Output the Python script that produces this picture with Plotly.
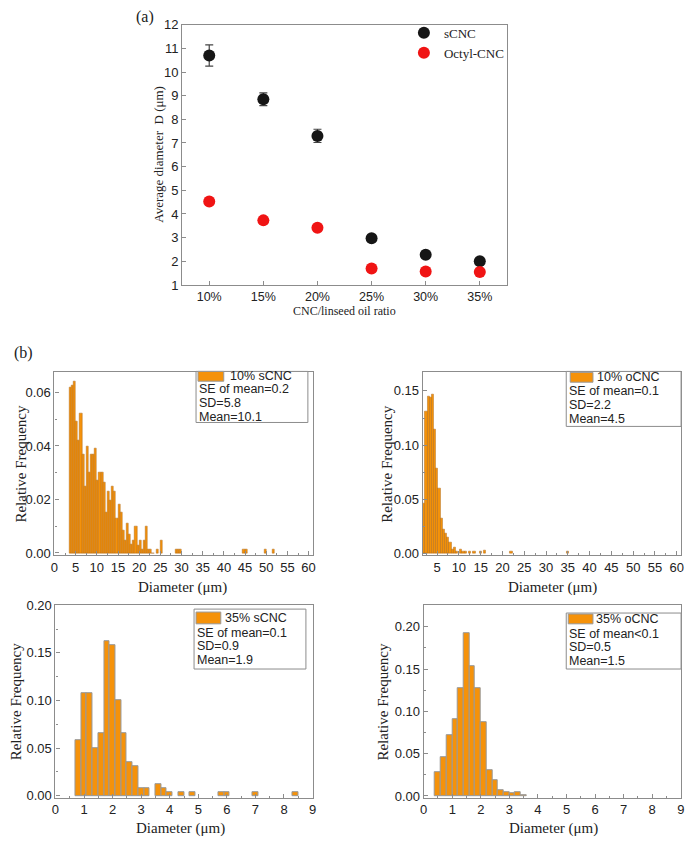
import plotly.graph_objects as go

W, H = 691, 844

# ---------------- data ----------------
ratio_labels = ["10%", "15%", "20%", "25%", "30%", "35%"]
scnc_mean = [10.7, 8.85, 7.3, 2.97, 2.28, 2.0]
scnc_err = [0.45, 0.27, 0.28, 0.1, 0.08, 0.06]
octyl_mean = [4.53, 3.73, 3.42, 1.7, 1.57, 1.55]
octyl_err = [0.05, 0.05, 0.05, 0.05, 0.05, 0.05]

# 10% sCNC histogram (0.5 um bins)
s10_centers = [3.75, 4.25, 4.75, 5.25, 5.75, 6.25, 6.75, 7.25, 7.75, 8.25,
               8.75, 9.25, 9.75, 10.25, 10.75, 11.25, 11.75, 12.25, 12.75, 13.25,
               13.75, 14.25, 14.75, 15.25, 15.75, 16.25, 16.75, 17.25, 17.75, 18.25,
               18.75, 19.25, 19.75, 20.25, 20.75, 21.25, 21.75, 22.25, 22.75, 23.25,
               24.25, 25.25, 28.75, 29.25, 29.75, 44.75, 45.25, 49.75, 51.75]
s10_freq = [0.062, 0.0625, 0.064, 0.049, 0.042, 0.052, 0.037, 0.025, 0.040, 0.030,
            0.037, 0.037, 0.039, 0.027, 0.030, 0.030, 0.0265, 0.015, 0.023, 0.0195,
            0.025, 0.023, 0.013, 0.018, 0.015, 0.0084, 0.0047, 0.011, 0.007, 0.0033,
            0.0047, 0.0098, 0.003, 0.0047, 0.0015, 0.0047, 0.0098, 0.0015, 0.0015, 0.0,
            0.0015, 0.0047, 0.0015, 0.0015, 0.0015, 0.0015, 0.0015, 0.0015, 0.0015]

# 10% oCNC histogram (0.5 um bins)
o10_centers = [2.0, 2.5, 3.0, 3.5, 4.0, 4.5, 5.0, 5.5, 6.0, 6.5,
               7.0, 7.5, 8.0, 8.5, 9.0, 9.5, 10.5, 11.0, 11.5, 12.5,
               13.5, 15.0, 16.0, 22.0, 35.0]
o10_freq = [0.046, 0.131, 0.145, 0.144, 0.147, 0.1145, 0.079, 0.060, 0.033, 0.0227,
            0.019, 0.015, 0.0106, 0.0045, 0.006, 0.002, 0.0036, 0.0018, 0.0018, 0.0018,
            0.0018, 0.0018, 0.0027, 0.0018, 0.0018]

# 35% sCNC histogram (0.2 um bins)
s35_centers = [0.8, 1.0, 1.2, 1.4, 1.6, 1.8, 2.0, 2.2, 2.4, 2.6,
               2.8, 3.0, 3.2, 3.6, 3.8, 4.0, 4.4, 4.8, 5.8, 6.0, 7.0, 8.4]
s35_freq = [0.058, 0.108, 0.108, 0.050, 0.066, 0.162, 0.158, 0.100, 0.066, 0.035,
            0.031, 0.008, 0.008, 0.012, 0.008, 0.004, 0.004, 0.004, 0.004, 0.004, 0.004, 0.004]

# 35% oCNC histogram (0.2 um bins)
o35_centers = [0.5, 0.7, 0.9, 1.1, 1.3, 1.5, 1.7, 1.9, 2.1, 2.3,
               2.5, 2.7, 2.9, 3.1, 3.3, 3.5]
o35_freq = [0.028, 0.046, 0.072, 0.091, 0.127, 0.193, 0.154, 0.128, 0.087, 0.030,
            0.019, 0.007, 0.004, 0.003, 0.004, 0.001]

hist_names = ["10% sCNC", "10% oCNC", "35% sCNC", "35% oCNC"]
hist_stats = [
    ["SE of mean=0.2", "SD=5.8", "Mean=10.1"],
    ["SE of mean=0.1", "SD=2.2", "Mean=4.5"],
    ["SE of mean=0.1", "SD=0.9", "Mean=1.9"],
    ["SE of mean<0.1", "SD=0.5", "Mean=1.5"],
]

# ---------------- styling ----------------
SANS = "Liberation Sans, Arial, sans-serif"
SERIF = "Liberation Serif, Times New Roman, serif"
BAR_FILL = "#F5920A"
AX_COL = "#8c8c8c"


def px(x):
    return x / W


def py(y):
    return 1 - y / H


fig = go.Figure()

# ---- panel (a) ----
fig.add_trace(go.Scatter(
    x=ratio_labels, y=scnc_mean, mode="markers", name="sCNC",
    marker=dict(color="#161616", size=12),
    error_y=dict(type="data", array=scnc_err, color="#444444", thickness=1.2, width=4),
    xaxis="x", yaxis="y"))
fig.add_trace(go.Scatter(
    x=ratio_labels, y=octyl_mean, mode="markers", name="Octyl-CNC",
    marker=dict(color="#f01414", size=12),
    error_y=dict(type="data", array=octyl_err, color="#c00000", thickness=1, width=3),
    xaxis="x", yaxis="y"))

# ---- histograms ----
hist_data = [
    (s10_centers, s10_freq, 0.5, "x2", "y2", "rgba(170,100,20,0.9)", 0.5),
    (o10_centers, o10_freq, 0.5, "x3", "y3", "rgba(170,100,20,0.9)", 0.5),
    (s35_centers, s35_freq, 0.2, "x4", "y4", "#999999", 1.0),
    (o35_centers, o35_freq, 0.2, "x5", "y5", "#999999", 1.0),
]
for (cx, fy, wd, xa, ya, lc, lw), nm in zip(hist_data, hist_names):
    fig.add_trace(go.Bar(
        x=cx, y=fy, width=wd, name=nm, showlegend=False,
        marker=dict(color=BAR_FILL, line=dict(color=lc, width=lw)),
        xaxis=xa, yaxis=ya))

common_ax = dict(showline=True, linecolor=AX_COL, linewidth=1.2, mirror=True,
                 ticks="inside", ticklen=4, tickcolor=AX_COL, showgrid=False,
                 zeroline=False, ticklabeloverflow="allow",
                 tickfont=dict(family=SANS, size=13, color="#222"))

dom_a = dict(x=[px(180), px(508)], y=[py(283), py(18)])
dom_tl = dict(x=[px(51), px(312)], y=[py(558), py(372)])
dom_tr = dict(x=[px(423), px(684)], y=[py(558), py(372)])
dom_bl = dict(x=[px(52), px(312)], y=[py(805), py(609)])
dom_br = dict(x=[px(424), px(684)], y=[py(805), py(609)])

ax_a = dict(common_ax)
ax_a["tickfont"] = dict(family=SANS, size=12.5, color="#222")

fig.update_layout(
    width=W, height=H, margin=dict(l=0, r=0, t=0, b=0),
    paper_bgcolor="white", plot_bgcolor="white",
    bargap=0,
    xaxis=dict(domain=dom_a["x"], anchor="y", type="category", range=[-0.5, 5.5],
               **ax_a),
    yaxis=dict(domain=dom_a["y"], anchor="x", range=[1, 12], dtick=1, **common_ax),
    xaxis2=dict(domain=dom_tl["x"], anchor="y2", range=[0, 61], dtick=5, tick0=0,
                minor=dict(ticks="inside", ticklen=2, dtick=2.5, tickcolor=AX_COL),
                **common_ax),
    yaxis2=dict(domain=dom_tl["y"], anchor="x2", range=[-0.0008, 0.0675], dtick=0.02,
                tickformat=".2f", minor=dict(ticks="inside", ticklen=2, dtick=0.01, tickcolor=AX_COL),
                **common_ax),
    xaxis3=dict(domain=dom_tr["x"], anchor="y3", range=[1.7, 61], dtick=5, tick0=0,
                minor=dict(ticks="inside", ticklen=2, dtick=2.5, tickcolor=AX_COL),
                **common_ax),
    yaxis3=dict(domain=dom_tr["y"], anchor="x3", range=[-0.0012, 0.167], dtick=0.05,
                tickformat=".2f", minor=dict(ticks="inside", ticklen=2, dtick=0.025, tickcolor=AX_COL),
                **common_ax),
    xaxis4=dict(domain=dom_bl["x"], anchor="y4", range=[0, 9.01], dtick=1,
                minor=dict(ticks="inside", ticklen=2, dtick=0.5, tickcolor=AX_COL),
                **common_ax),
    yaxis4=dict(domain=dom_bl["y"], anchor="x4", range=[-0.002, 0.2], dtick=0.05,
                tickformat=".2f", minor=dict(ticks="inside", ticklen=2, dtick=0.025, tickcolor=AX_COL),
                **common_ax),
    xaxis5=dict(domain=dom_br["x"], anchor="y5", range=[0, 9.01], dtick=1,
                minor=dict(ticks="inside", ticklen=2, dtick=0.5, tickcolor=AX_COL),
                **common_ax),
    yaxis5=dict(domain=dom_br["y"], anchor="x5", range=[-0.002, 0.2256], dtick=0.05,
                tickformat=".2f", minor=dict(ticks="inside", ticklen=2, dtick=0.025, tickcolor=AX_COL),
                **common_ax),
    legend=dict(x=px(404), y=py(11), xanchor="left", yanchor="top",
                bgcolor="rgba(0,0,0,0)", borderwidth=0,
                font=dict(family=SERIF, size=13, color="#222"),
                itemsizing="constant", tracegroupgap=0),
    showlegend=True,
)

ann = []


def text(x, y, s, size=13, family=SANS, xanchor="left", angle=0):
    ann.append(dict(x=px(x), y=py(y), xref="paper", yref="paper", text=s,
                    showarrow=False, xanchor=xanchor, yanchor="middle",
                    textangle=angle, font=dict(family=family, size=size, color="#222")))


# panel labels and axis titles
text(131, 10, "(a)", size=16, family=SERIF)
text(8, 352, "(b)", size=16, family=SERIF)
text(156, 150, "Average diameter  D (μm)", size=13, family=SERIF, xanchor="center", angle=-90)
text(344, 310, "CNC/linseed oil ratio", size=12, family=SERIF, xanchor="center")

for xc, yc in [(17, 465), (387, 465), (13, 707), (383, 707)]:
    text(xc, yc, "Relative Frequency", size=15, family=SERIF, xanchor="center", angle=-90)
for xc, yc in [(180, 591), (554, 591), (178, 836), (555, 836)]:
    text(xc, yc, "Diameter (μm)", size=15, family=SERIF, xanchor="center")

# histogram legend boxes
boxes = [
    dict(box=[194, 371, 307, 423], sw=[196, 371, 222, 381], lab=(226, 376), lines=[389, 403, 417], lx=195),
    dict(box=[568, 371, 684, 427], sw=[572, 372, 595, 382], lab=(597, 377), lines=[391, 405, 419], lx=569),
    dict(box=[192, 613, 305, 674], sw=[194, 616, 219, 628], lab=(221, 622), lines=[637, 651, 665], lx=193),
    dict(box=[568, 617, 684, 674], sw=[570, 618, 595, 628], lab=(596, 623), lines=[638, 652, 666], lx=569),
]
shapes = []
for b, nm, stats in zip(boxes, hist_names, hist_stats):
    x0, y0, x1, y1 = b["box"]
    shapes.append(dict(type="rect", xref="paper", yref="paper",
                       x0=px(x0), x1=px(x1), y0=py(y1), y1=py(y0),
                       line=dict(color="#8c8c8c", width=1), fillcolor="white", layer="above"))
    sx0, sy0, sx1, sy1 = b["sw"]
    shapes.append(dict(type="rect", xref="paper", yref="paper",
                       x0=px(sx0), x1=px(sx1), y0=py(sy1), y1=py(sy0),
                       line=dict(color="#999999", width=1), fillcolor=BAR_FILL, layer="above"))
    text(b["lab"][0], b["lab"][1], nm, size=12.5)
    for ly, s in zip(b["lines"], stats):
        text(b["lx"], ly, s, size=12.5)

fig.update_layout(annotations=ann, shapes=shapes)

fig.write_html("out.html", config={"displayModeBar": False},
               post_script="document.body.style.margin='0';document.body.style.overflow='hidden';")
